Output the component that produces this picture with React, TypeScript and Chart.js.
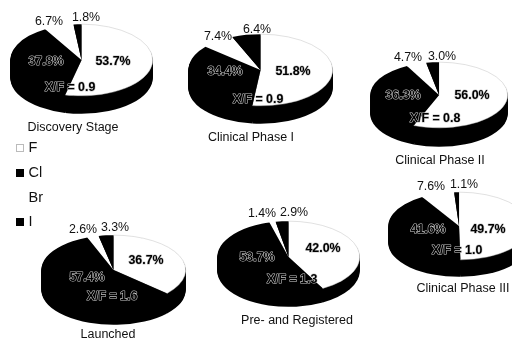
import React, { useEffect, useRef } from "react";
import { Chart, registerables } from "chart.js";

Chart.register(...registerables);

const FONT = '"Liberation Sans", Arial, sans-serif';

// Halogen share of compounds per development stage, in percent.
const stages = ["Discovery Stage", "Clinical Phase I", "Clinical Phase II", "Clinical Phase III", "Launched", "Pre- and Registered"];
const fluorine = [53.7, 51.8, 56.0, 49.7, 36.7, 42.0];
const chlorine = [37.8, 34.4, 36.3, 41.6, 57.4, 53.7];
const bromine = [6.7, 7.4, 4.7, 7.6, 2.6, 1.4];
const iodine = [1.8, 6.4, 3.0, 1.1, 3.3, 2.9];
const xfRatio = ["0.9", "0.9", "0.8", "1.0", "1.6", "1.3"];
const halogens = ["F", "Cl", "Br", "I"];

// Page geometry of each disc: centre, radii and wall height.
const discs = [
  { cx: 81.5, cy: 60, rx: 71.5, ry: 36, depth: 18 },
  { cx: 260.5, cy: 70, rx: 72.5, ry: 36, depth: 18 },
  { cx: 439, cy: 95, rx: 69, ry: 33, depth: 19 },
  { cx: 459, cy: 226, rx: 71, ry: 34, depth: 17 },
  { cx: 113.5, cy: 270, rx: 72.5, ry: 35, depth: 20 },
  { cx: 288.5, cy: 257, rx: 71.5, ry: 36, depth: 14 },
];

// Label anchors [x, y], ordered F, Cl, Br, I, ratio, caption.
const anchors = [
  [[113, 62], [46, 62], [49, 22], [86, 18], [70, 88], [73, 128]],
  [[293, 72], [225, 72], [218, 37], [257, 30], [258, 100], [251, 138]],
  [[472, 96], [403, 96], [408, 58], [442, 57], [435, 119], [440, 161]],
  [[488, 230], [428, 230], [431, 187], [464, 185], [457, 251], [463, 289]],
  [[146, 261], [87, 278], [83, 230], [115, 228], [112, 297], [108, 335]],
  [[323, 249], [257, 258], [262, 214], [294, 213], [292, 280], [297, 321]],
];

const legendRows = [
  { y: 148, swatch: "outline" },
  { y: 173, swatch: "solid" },
  { y: 198, swatch: "none" },
  { y: 222, swatch: "solid" },
];

// Every canvas overhangs the page so a disc may run past its edge.
const BLEED = 40;
const CANVAS_W = 512 + BLEED * 2;
const CANVAS_H = 341 + BLEED * 2;

function discPlugin(i: number) {
  const d = discs[i];
  const k = d.ry / d.rx;
  return {
    id: "disc" + i,
    beforeDatasetsDraw(chart: any) {
      const ctx = chart.ctx;
      const arcs = chart.getDatasetMeta(0).data;
      const px = d.cx + BLEED;
      const py = d.cy + BLEED;
      // Wall of the disc: the slice outlines swept downward in black.
      ctx.save();
      ctx.fillStyle = "#000";
      for (let step = d.depth; step >= 1; step--) {
        ctx.save();
        ctx.translate(px, py + step);
        ctx.scale(1, k);
        ctx.translate(-px, -py);
        arcs.forEach((arc: any) => {
          const p = arc.getProps(["x", "y", "startAngle", "endAngle", "outerRadius"], true);
          ctx.beginPath();
          ctx.moveTo(p.x, p.y);
          ctx.arc(p.x, p.y, p.outerRadius, p.startAngle, p.endAngle);
          ctx.closePath();
          ctx.fill();
        });
        ctx.restore();
      }
      ctx.restore();
      // Flatten the top face into an ellipse.
      ctx.save();
      ctx.translate(px, py);
      ctx.scale(1, k);
      ctx.translate(-px, -py);
    },
    afterDatasetsDraw(chart: any) {
      const ctx = chart.ctx;
      ctx.restore();
      const a = anchors[i];
      ctx.save();
      ctx.textAlign = "center";
      ctx.textBaseline = "middle";
      ctx.lineJoin = "round";
      const at = (p: number[]) => [p[0] + BLEED, p[1] + BLEED];

      // Inner labels: black with a thin pale halo, so they read on either colour.
      const inner = (text: string, p: number[]) => {
        const [x, y] = at(p);
        ctx.font = `bold 12.4px ${FONT}`;
        ctx.strokeStyle = "#c8c8c8";
        ctx.lineWidth = 1.1;
        ctx.strokeText(text, x, y);
        ctx.fillStyle = "#000";
        ctx.fillText(text, x, y);
      };
      inner(`${fluorine[i].toFixed(1)}%`, a[0]);
      inner(`${chlorine[i].toFixed(1)}%`, a[1]);
      inner(`X/F = ${xfRatio[i]}`, a[4]);

      const outer = (text: string, p: number[], size: number) => {
        const [x, y] = at(p);
        ctx.font = `${size}px ${FONT}`;
        ctx.fillStyle = "#111";
        ctx.fillText(text, x, y);
      };
      outer(`${bromine[i].toFixed(1)}%`, a[2], 12.4);
      outer(`${iodine[i].toFixed(1)}%`, a[3], 12.4);
      outer(stages[i], a[5], 12.5);
      ctx.restore();
    },
  };
}

// Halogen key, drawn once on the first canvas.
const keyPlugin = {
  id: "halogenKey",
  afterDraw(chart: any) {
    const ctx = chart.ctx;
    ctx.save();
    ctx.textAlign = "left";
    ctx.textBaseline = "middle";
    ctx.font = `14.5px ${FONT}`;
    legendRows.forEach((row, n) => {
      const y = row.y + BLEED;
      const x = 16 + BLEED;
      if (row.swatch === "solid") {
        ctx.fillStyle = "#000";
        ctx.fillRect(x, y - 4, 8, 8);
      } else if (row.swatch === "outline") {
        ctx.strokeStyle = "#bbb";
        ctx.lineWidth = 1;
        ctx.strokeRect(x + 0.5, y - 3.5, 7, 7);
      }
      ctx.fillStyle = "#111";
      ctx.fillText(halogens[n], 28.5 + BLEED, y);
    });
    ctx.restore();
  },
};

function Pie({ index }: { index: number }) {
  const ref = useRef<HTMLCanvasElement>(null);
  useEffect(() => {
    const d = discs[index];
    const chart = new Chart(ref.current as HTMLCanvasElement, {
      type: "pie",
      data: {
        labels: halogens,
        datasets: [
          {
            data: [fluorine[index], chlorine[index], bromine[index], iodine[index]],
            backgroundColor: ["#fff", "#000", "#fff", "#000"],
            borderColor: ["#bbb", "#000", "#fff", "#000"],
            borderWidth: [0.6, 0, 0, 0],
          },
        ],
      },
      options: {
        responsive: false,
        animation: false,
        events: [],
        layout: {
          padding: {
            left: d.cx - d.rx + BLEED,
            right: CANVAS_W - (d.cx + d.rx + BLEED),
            top: d.cy - d.rx + BLEED,
            bottom: CANVAS_H - (d.cy + d.rx + BLEED),
          },
        },
        plugins: { legend: { display: false }, tooltip: { enabled: false }, title: { display: false } },
      },
      plugins: index === 0 ? [discPlugin(index), keyPlugin] : [discPlugin(index)],
    } as any);
    return () => chart.destroy();
  }, [index]);
  return (
    <canvas
      ref={ref}
      width={CANVAS_W}
      height={CANVAS_H}
      style={{ position: "absolute", left: -BLEED, top: -BLEED, width: CANVAS_W, height: CANVAS_H }}
    />
  );
}

export default function App() {
  return (
    <div style={{ position: "fixed", left: 0, top: 0, width: 512, height: 341, overflow: "hidden", background: "#fff" }}>
      {stages.map((s, i) => (
        <Pie key={s} index={i} />
      ))}
    </div>
  );
}
